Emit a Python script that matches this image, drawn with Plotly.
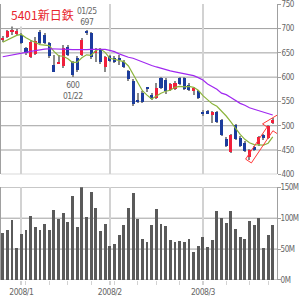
import plotly.graph_objects as go

# ---------------- data ----------------
dates = ["12/25", "12/26", "12/27", "12/28",
         "01/04", "01/07", "01/08", "01/09", "01/10", "01/11", "01/15", "01/16", "01/17", "01/18",
         "01/21", "01/22", "01/23", "01/24", "01/25", "01/28", "01/29", "01/30", "01/31",
         "02/01", "02/04", "02/05", "02/06", "02/07", "02/08", "02/12", "02/13", "02/14", "02/15",
         "02/18", "02/19", "02/20", "02/21", "02/22", "02/25", "02/26", "02/27", "02/28", "02/29",
         "03/03", "03/04", "03/05", "03/06", "03/07", "03/10", "03/11", "03/12", "03/13", "03/14",
         "03/17", "03/18", "03/19", "03/21", "03/24", "03/25"]

opens = [676, 682, 692, 688, 686, 659, 641, 648, 693, 686, 669, 625, 628, 622, 662, 631, 638, 645,
         695, 690, 650, 657, 621, 642, 639, 637, 631, 612, 592, 553, 566, 577, 563, 557, 597, 594,
         573, 575, 597, 597, 583, 570, 570, 528, 529, 523, 527, 511, 472, 445, 500, 474, 464, 434,
         456, 462, 481, 474, 506]
highs = [684, 697, 705, 698, 690, 662, 676, 682, 696, 690, 672, 645, 645, 665, 665, 633, 642, 681,
         697, 692, 659, 659, 643, 645, 642, 645, 634, 615, 595, 566, 570, 580, 566, 587, 600, 597,
         587, 591, 600, 599, 587, 579, 572, 531, 531, 529, 530, 513, 477, 483, 502, 479, 467, 452,
         458, 479, 483, 500, 515]
lows = [672, 680, 686, 686, 667, 645, 638, 645, 667, 667, 639, 609, 626, 618, 642, 600, 611, 642,
        687, 637, 631, 627, 611, 630, 629, 625, 619, 592, 540, 546, 546, 568, 553, 555, 574, 565,
        571, 573, 583, 573, 571, 563, 554, 520, 523, 506, 505, 478, 455, 443, 471, 455, 445, 428,
        447, 458, 471, 472, 503]
closes = [681, 694, 697, 695, 669, 649, 672, 674, 669, 669, 642, 611, 631, 660, 645, 604, 614, 675,
          690, 641, 653, 631, 640, 632, 631, 635, 621, 595, 545, 548, 549, 576, 555, 577, 577, 570,
          585, 587, 585, 575, 573, 577, 557, 523, 525, 527, 508, 481, 458, 481, 472, 457, 447, 450,
          450, 477, 474, 498, 511]

ma_short = [672, 677, 682, 686, 688, 681, 676, 672, 667, 666, 665, 653, 644, 643, 638, 630, 631, 640,
            646, 645, 655, 658, 651, 639, 637, 634, 632, 623, 605, 589, 572, 563, 555, 561, 567, 571,
            573, 579, 581, 580, 581, 579, 573, 562, 553, 545, 540, 531, 520, 508, 495, 482, 472, 465,
            461, 460, 460, 464, 477]
ma_long = [642, 643.5, 645, 647, 649, 651, 653, 655, 656.5, 657.5, 658.5, 658.5, 658, 657.5, 657,
           656.5, 656, 656, 656.5, 657, 657.5, 657.5, 657, 655, 652.5, 648, 644, 641, 639, 635, 632,
           628, 624, 621, 618, 616, 613, 611, 609, 606, 604, 603, 599, 594, 586, 580, 575, 567, 564,
           558, 552, 546, 542, 537, 534, 531, 529, 525, 522]

volumes_m = [75.5, 81, 96, 51, 74.4, 81, 103.6, 84.7, 81, 90.6, 81, 113, 98.7, 108, 93.9, 136, 84.7,
             150, 102, 142, 116.5, 79.3, 90.6, 55, 58, 72.8, 89, 116, 141, 98.7, 66.3, 60.4,
             89, 114, 90.6, 87.4, 64.7, 61.5, 63, 61.5, 66.3, 45.3, 55, 69.6, 53.4, 64.7, 111.7,
             99.8, 91, 111.7, 82.5, 69.6, 66.3, 95.5, 89, 99.2, 51.8, 72.8, 89]

price_ticks = [400, 450, 500, 550, 600, 650, 700, 750]
price_grid = [400, 450, 500, 550, 600, 650, 700]
vol_ticks = [0, 50, 100, 150]
vol_tick_labels = ["0M", "50M", "100M", "150M"]
month_starts = ["01/04", "02/01", "03/03"]
month_labels = ["2008/1", "2008/2", "2008/3"]
week_starts = ["01/07", "01/15", "01/21", "01/28", "02/04", "02/12", "02/18", "02/25",
               "03/10", "03/17", "03/24"]
title_text = "5401新日鉄"
high_label = ("01/25", 697)
low_label = ("01/22", 600)
# hollow arrow outline in (index, price) data units
arrow_pts = [(52.17, 431.2), (56.79, 497.4), (55.80, 503.8), (59.66, 526.0),
             (59.02, 483.2), (58.03, 489.6), (53.41, 423.4)]

# ---------------- styles ----------------
UP = "#f0203c"
DOWN = "#1c3c9c"
WICK = "#8a8a8a"
GRID_H = "#a0a0a0"
GRID_V = "#d2d2d2"
TXT = "#666666"
FONT = "DejaVu Sans Condensed, Liberation Sans Narrow, sans-serif"


def tight(s):
    return f'<span style="letter-spacing:-0.5px">{s}</span>'


xs = list(range(len(dates)))
month_pos = [dates.index(d) for d in month_starts]
week_pos = [dates.index(d) for d in week_starts]
body_base = [min(o, c) for o, c in zip(opens, closes)]
body_h = [max(abs(c - o), 1.2) for o, c in zip(opens, closes)]
body_col = [UP if c >= o else DOWN for o, c in zip(opens, closes)]
wick_h = [h - l for h, l in zip(highs, lows)]

fig = go.Figure()
fig.add_trace(go.Bar(x=xs, y=wick_h, base=lows, width=0.22, marker=dict(color=WICK, line=dict(width=0)),
                     xaxis="x", yaxis="y", showlegend=False))
fig.add_trace(go.Bar(x=xs, y=body_h, base=body_base, width=0.66,
                     marker=dict(color=body_col, line=dict(width=0)),
                     xaxis="x", yaxis="y", showlegend=False))
fig.add_trace(go.Scatter(x=xs, y=ma_short, mode="lines", line=dict(color="#8cb43c", width=1.2),
                         xaxis="x", yaxis="y", showlegend=False))
fig.add_trace(go.Scatter(x=xs, y=ma_long, mode="lines", line=dict(color="#a028f0", width=1.2),
                         xaxis="x", yaxis="y", showlegend=False))
fig.add_trace(go.Bar(x=xs, y=volumes_m, width=0.62, marker=dict(color="#5a5a5a", line=dict(width=0)),
                     xaxis="x2", yaxis="y2", showlegend=False))

shapes = []
for v in price_grid:
    shapes.append(dict(type="line", xref="x domain", yref="y", x0=0, x1=1, y0=v, y1=v,
                       line=dict(color=GRID_H, width=1), layer="below"))
for v in vol_ticks:
    shapes.append(dict(type="line", xref="x2 domain", yref="y2", x0=0, x1=1, y0=v, y1=v,
                       line=dict(color=GRID_H, width=1), layer="below"))
path = "M " + " L ".join(f"{a},{b}" for a, b in arrow_pts) + " Z"
shapes.append(dict(type="path", xref="x", yref="y", path=path,
                   line=dict(color="#ff3838", width=1), fillcolor="rgba(0,0,0,0)", layer="above"))

tickfont = dict(family=FONT, size=8, color=TXT)
xr = [-0.365, 58.91]
fig.update_layout(
    width=300, height=300,
    margin=dict(l=1, r=23, t=0, b=0),
    paper_bgcolor="white", plot_bgcolor="white",
    barmode="overlay", bargap=0,
    shapes=shapes,
    xaxis=dict(domain=[0, 1], anchor="y", range=xr, tickvals=month_pos, showticklabels=False,
               ticks="", showgrid=True, gridcolor=GRID_V, gridwidth=1.6, zeroline=False, showline=False,
               fixedrange=True),
    xaxis2=dict(domain=[0, 1], anchor="y2", range=xr, matches="x", tickvals=month_pos,
                ticktext=[tight(t) for t in month_labels], ticks="outside", ticklen=4,
                tickcolor=GRID_V, tickwidth=1.6,
                showgrid=True, gridcolor=GRID_V, gridwidth=1.6, zeroline=False, showline=False,
                tickfont=dict(family=FONT, size=8.5, color=TXT),
                minor=dict(tickvals=week_pos, ticks="outside", ticklen=4, tickcolor=GRID_V,
                           tickwidth=1.4, showgrid=False),
                automargin=False),
    yaxis=dict(domain=[0.419, 0.9857], anchor="x", side="right", range=[400, 750],
               tickvals=price_ticks, ticktext=[tight(str(v)) for v in price_ticks],
               ticks="outside", ticklen=3, tickcolor=GRID_H, ticklabelstandoff=-1,
               showline=True, linecolor=GRID_H, linewidth=1, mirror=True, showgrid=False,
               zeroline=False, tickfont=tickfont, automargin=False),
    yaxis2=dict(domain=[0.0667, 0.3757], anchor="x2", side="right", range=[0, 150],
                tickvals=vol_ticks, ticktext=[tight(t) for t in vol_tick_labels], ticks="outside",
                ticklen=3, tickcolor=GRID_H, ticklabelstandoff=-2, showline=True, linecolor=GRID_H,
                linewidth=1, mirror=True, showgrid=False, zeroline=False, tickfont=tickfont,
                automargin=False),
    annotations=[
        dict(text=title_text, xref="paper", yref="paper", x=0.022, y=0.951, xanchor="left",
             yanchor="middle", showarrow=False, bgcolor="white", borderpad=3,
             font=dict(family="Noto Sans CJK JP", size=12, color="#e8242c")),
        dict(text=tight(f"{high_label[0]}<br>{high_label[1]}"), x=dates.index(high_label[0]),
             y=high_label[1], xref="x", yref="y", xanchor="center", yanchor="bottom", yshift=1,
             showarrow=False, font=dict(family=FONT, size=8.5, color=TXT)),
        dict(text=tight(f"{low_label[1]}<br>{low_label[0]}"), x=dates.index(low_label[0]),
             y=low_label[1], xref="x", yref="y", xanchor="center", yanchor="top", yshift=-1,
             showarrow=False, font=dict(family=FONT, size=8.5, color=TXT)),
    ],
)

fig.write_html("out.html")
